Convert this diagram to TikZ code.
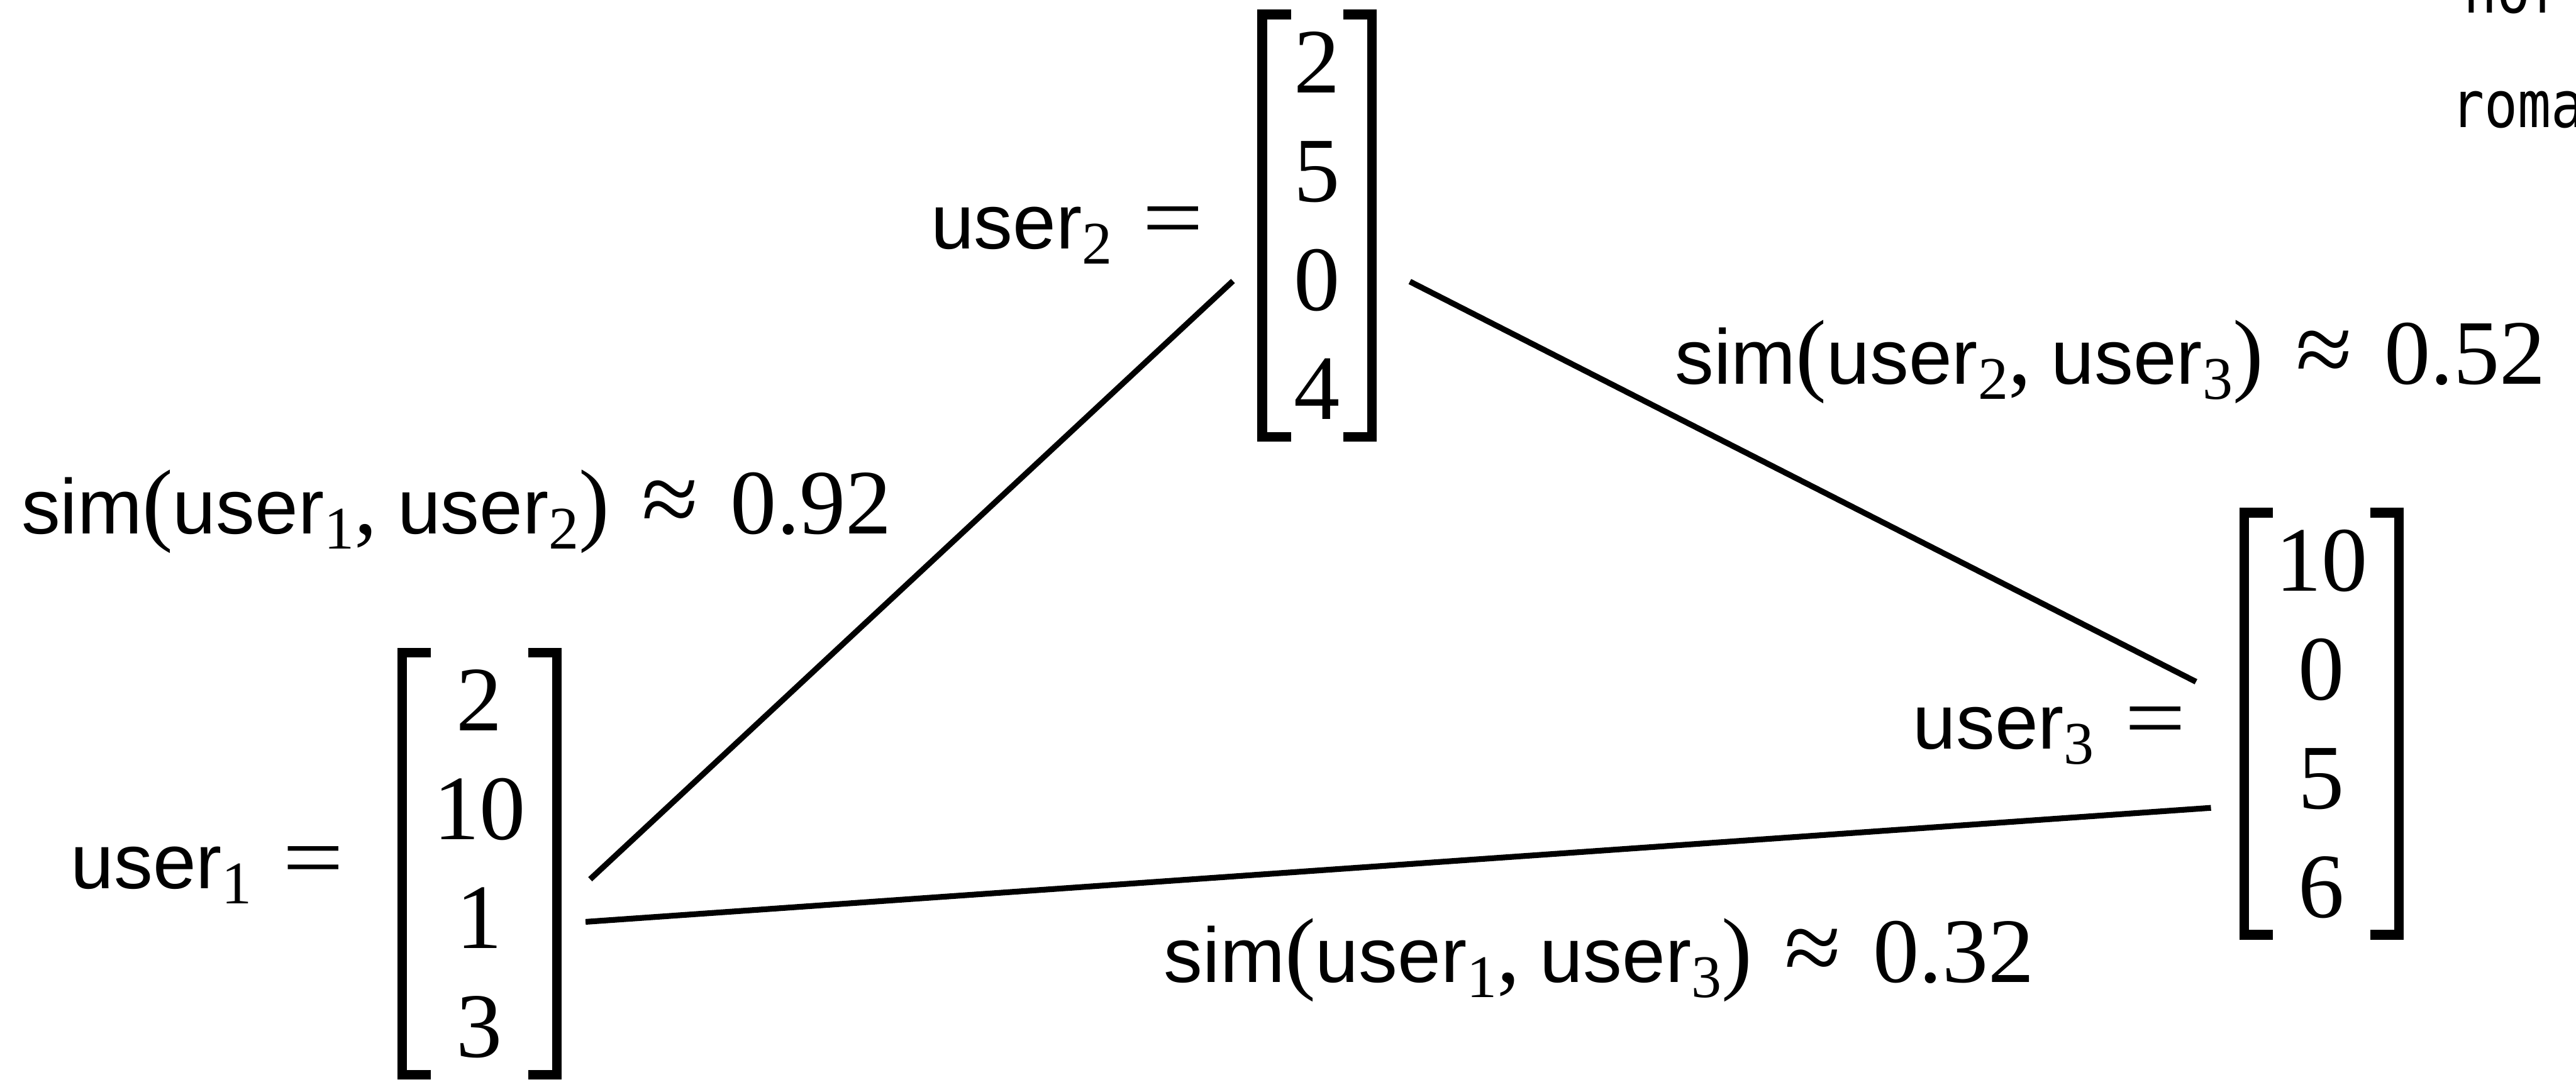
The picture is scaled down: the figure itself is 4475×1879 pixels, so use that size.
\documentclass[tikz,border=0pt]{standalone}
\usepackage{fontspec}
\usepackage{graphicx}
\usetikzlibrary{calc}
\newfontfamily\lsans{Liberation Sans}
\newfontfamily\lserif{Liberation Serif}
\newfontfamily\dmono{DejaVu Sans Mono}
\newcommand\snum[1]{{\lserif\fontsize{160}{189}\selectfont #1}}
\newcommand\uname[1]{{\lsans\fontsize{135}{160}\selectfont user}\raisebox{-26pt}{\lserif\fontsize{105}{120}\selectfont #1}}
\newcommand\simlab[3]{{\lsans\fontsize{135}{160}\selectfont sim}\snum{(}\uname{#1}\snum{,}\hspace{35pt}\uname{#2}\snum{)}\hspace{56pt}\scalebox{1.12}{\snum{≈}}\hspace{56pt}\snum{#3}}
\newcommand\ulab[1]{\makebox[368pt][l]{\uname{#1}}\scalebox{1.18}[1]{\snum{=}}}
\newcommand\brackets[1]{%
  \draw[brk] ([xshift=50pt]#1.north west) -- (#1.north west) -- (#1.south west) -- ([xshift=50pt]#1.south west);
  \draw[brk] ([xshift=-50pt]#1.north east) -- (#1.north east) -- (#1.south east) -- ([xshift=-50pt]#1.south east);}
\begin{document}
\begin{tikzpicture}[x=1pt,y=-1pt,
  mat/.style={inner sep=0pt, minimum height=733pt, align=center, font=\lserif\fontsize{160}{189}\selectfont},
  brk/.style={line width=17pt},
  conn/.style={line width=10pt},
  lab/.style={inner sep=0pt, anchor=base west},
  cut/.style={inner sep=0pt, anchor=base west, font=\dmono\fontsize{112}{130}\selectfont}]
\useasboundingbox (0,0) rectangle (4475,1879);
% matrices
\node[mat, minimum width=268pt] (m1) at (833,1500) {2\\10\\1\\3};
\node[mat, minimum width=190pt] (m2) at (2288,392) {2\\5\\0\\4};
\node[mat, minimum width=268pt] (m3) at (4033,1257) {10\\0\\5\\6};
\brackets{m1}
\brackets{m2}
\brackets{m3}
% user labels
\node[lab] (u1) at ($(m1.west)+(-576,43)$) {\ulab{1}};
\node[lab] (u2) at ($(m2.west)+(-576,40)$) {\ulab{2}};
\node[lab] (u3) at ($(m3.west)+(-576,44)$) {\ulab{3}};
% connectors
\draw[conn] ($(m1.east)+(58,27)$) -- ($(m2.west)+(-51,96)$);
\draw[conn] ($(m2.east)+(66,97)$) -- ($(m3.west)+(-84,-73)$);
\draw[conn] ($(m1.east)+(50,101)$) -- ($(m3.west)+(-58,146)$);
% similarity labels
\node[lab] (s12) at (37,927) {\simlab{1}{2}{0.92}};
\node[lab] (s23) at (2910,667) {\simlab{2}{3}{0.52}};
\node[lab] (s13) at (2022,1706) {\simlab{1}{3}{0.32}};
% cut-off texts at top right
\node[cut] (t1) at (4280,22) {\scalebox{0.86}[1]{hor}};
\node[cut] (t2) at (4258,221) {\scalebox{0.86}[1]{roma}};
\end{tikzpicture}
\end{document}
